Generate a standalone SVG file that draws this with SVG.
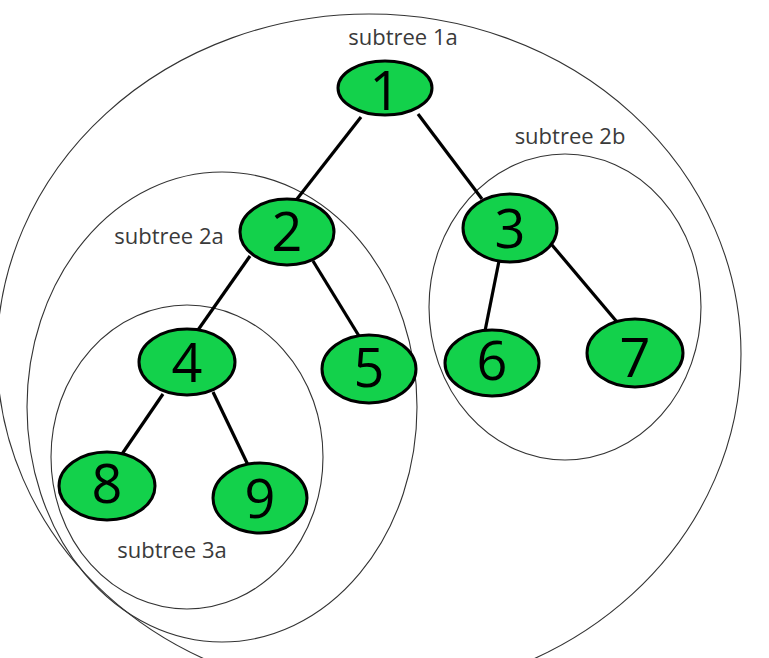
<svg xmlns="http://www.w3.org/2000/svg" width="769" height="658" viewBox="0 0 769 658">
<style>
.ring{fill:none;stroke:#333;stroke-width:1.1}
.lbl{font-family:"Open Sans","Liberation Sans",sans-serif;font-size:22px;fill:#3a3a3a;text-anchor:middle}
.node ellipse{fill:#13D14B;stroke:#000;stroke-width:3}
.node text{font-family:"Open Sans","Liberation Sans",sans-serif;font-size:54px;fill:#000;text-anchor:middle}
.edge{stroke:#000;stroke-width:3.2;stroke-linecap:butt}
</style>
<rect width="769" height="658" fill="#fff"/>
<g id="rings">
<ellipse class="ring" cx="369" cy="354" rx="372" ry="340"/>
<ellipse class="ring" cx="222" cy="407" rx="195" ry="235"/>
<ellipse class="ring" cx="187" cy="457" rx="136" ry="152"/>
<ellipse class="ring" cx="565" cy="307" rx="136" ry="153"/>
</g>
<g id="labels">
<text class="lbl" x="403" y="45">subtree 1a</text>
<text class="lbl" x="570" y="144">subtree 2b</text>
<text class="lbl" x="169" y="244">subtree 2a</text>
<text class="lbl" x="172" y="558">subtree 3a</text>
</g>
<g id="connectors">
<line class="edge" x1="361" y1="117" x2="297" y2="199"/>
<line class="edge" x1="418" y1="114" x2="482" y2="199"/>
<line class="edge" x1="250" y1="256" x2="198" y2="330"/>
<line class="edge" x1="313" y1="261" x2="359" y2="336"/>
<line class="edge" x1="163" y1="394" x2="122" y2="454"/>
<line class="edge" x1="213" y1="392" x2="248" y2="465"/>
<line class="edge" x1="499" y1="261" x2="485" y2="331"/>
<line class="edge" x1="552" y1="245" x2="617" y2="322"/>
</g>
<g id="node1" class="node"><ellipse cx="385" cy="88" rx="47" ry="27"/><text x="385" y="110">1</text></g>
<g id="node2" class="node"><ellipse cx="287" cy="232" rx="47" ry="33"/><text x="287" y="251">2</text></g>
<g id="node3" class="node"><ellipse cx="510" cy="228" rx="47" ry="34"/><text x="510" y="248">3</text></g>
<g id="node4" class="node"><ellipse cx="187" cy="362" rx="48" ry="33"/><text x="187" y="382">4</text></g>
<g id="node5" class="node"><ellipse cx="369" cy="369" rx="47" ry="34"/><text x="369" y="387">5</text></g>
<g id="node6" class="node"><ellipse cx="492" cy="363" rx="47" ry="33"/><text x="492" y="380">6</text></g>
<g id="node7" class="node"><ellipse cx="635" cy="353" rx="48" ry="34"/><text x="635" y="377">7</text></g>
<g id="node8" class="node"><ellipse cx="107" cy="486" rx="48" ry="34"/><text x="107" y="503">8</text></g>
<g id="node9" class="node"><ellipse cx="260" cy="498" rx="47" ry="35"/><text x="260" y="518">9</text></g>
</svg>
